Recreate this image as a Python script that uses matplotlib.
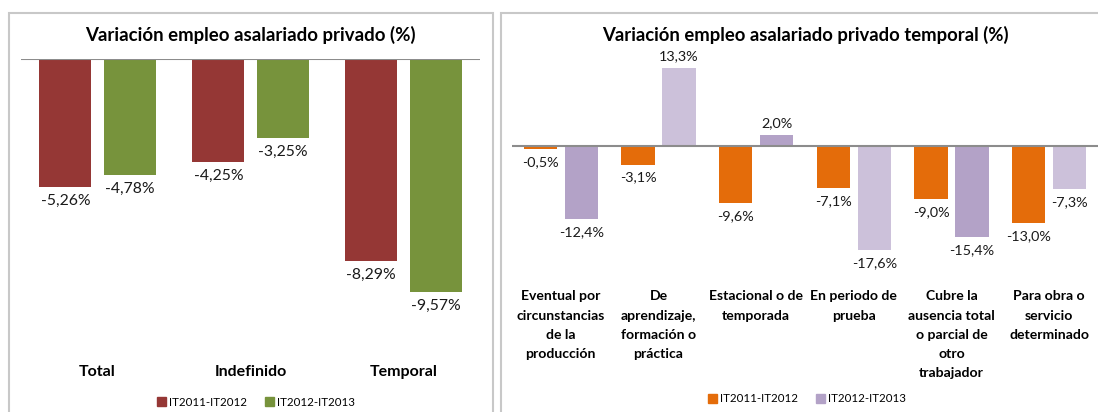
import matplotlib
matplotlib.use("Agg")
import numpy as np
import matplotlib.pyplot as plt
from matplotlib.patches import Rectangle, Patch

plt.rcParams["font.family"] = ["Lato", "DejaVu Sans"]

# data
left_categories = ["Total", "Indefinido", "Temporal"]
left_2011_2012 = [-5.26, -4.25, -8.29]
left_2012_2013 = [-4.78, -3.25, -9.57]

right_categories = [
    "Eventual por\ncircunstancias\nde la\nproducción",
    "De\naprendizaje,\nformación o\npráctica",
    "Estacional o de\ntemporada",
    "En periodo de\nprueba",
    "Cubre la\nausencia total\no parcial de\notro\ntrabajador",
    "Para obra o\nservicio\ndeterminado",
]
right_2011_2012 = [-0.5, -3.1, -9.6, -7.1, -9.0, -13.0]
right_2012_2013 = [-12.4, 13.3, 2.0, -17.6, -15.4, -7.3]

series_labels = ["IT2011-IT2012", "IT2012-IT2013"]

W, H = 1098, 412
fig = plt.figure(figsize=(W / 100, H / 100), dpi=100)


def axes_px(x0, x1, y0, y1):
    return fig.add_axes([x0 / W, 1 - y1 / H, (x1 - x0) / W, (y1 - y0) / H])


def fmt(v, nd):
    return f"{v:.{nd}f}".replace(".", ",") + "%"


def label_bars(ax, bars, values, nd, size):
    for b, v in zip(bars, values):
        x = b.get_x() + b.get_width() / 2
        if v < 0:
            ax.annotate(fmt(v, nd), (x, v), xytext=(0, -5), textcoords="offset points",
                        ha="center", va="top", fontsize=size, color="#1a1a1a")
        else:
            ax.annotate(fmt(v, nd), (x, v), xytext=(0, 4), textcoords="offset points",
                        ha="center", va="bottom", fontsize=size, color="#1a1a1a")


def style(ax):
    for s in ax.spines.values():
        s.set_visible(False)
    ax.axhline(0, color="#8c8c8c", lw=1.5, zorder=3)
    ax.set_yticks([])
    ax.tick_params(axis="x", length=0)


# panel borders
fig.patches.append(Rectangle((9 / W, -0.1), (493 - 9) / W, 1 - 13 / H + 0.1,
                             transform=fig.transFigure, fill=False, ec="#c8c8c8", lw=1.5))
fig.patches.append(Rectangle((501 / W, -0.1), 0.6, 1 - 13 / H + 0.1,
                             transform=fig.transFigure, fill=False, ec="#c8c8c8", lw=1.5))

w = 0.34
off = 0.21

# left chart
red, green = "#953735", "#77933c"
ax1 = axes_px(21, 480, 59, 351)
x = np.arange(len(left_categories))
b1 = ax1.bar(x - off, left_2011_2012, w, color=red)
b2 = ax1.bar(x + off, left_2012_2013, w, color=green)
ax1.set_xlim(-0.5, len(left_categories) - 0.5)
ax1.set_ylim(-12, 0)
style(ax1)
ax1.set_xticks(x, left_categories, fontsize=11.5, fontweight="bold")
ax1.tick_params(axis="x", pad=10)
label_bars(ax1, b1, left_2011_2012, 2, 11.3)
label_bars(ax1, b2, left_2012_2013, 2, 11.3)
fig.text(250 / W, 1 - 35 / H, "Variación empleo asalariado privado (%)",
         ha="center", va="center", fontsize=13.4, fontweight="bold")
fig.legend(handles=[Patch(color=red, label=series_labels[0]),
                    Patch(color=green, label=series_labels[1])],
           loc="center", bbox_to_anchor=(256 / W, 1 - 402 / H), ncol=2, frameon=False,
           fontsize=8.3, handlelength=0.8, handleheight=0.8, handletextpad=0.3,
           columnspacing=1.5)

# right chart
orange = "#e46c0a"
purples = ["#b3a2c7", "#ccc1da", "#b3a2c7", "#ccc1da", "#b3a2c7", "#ccc1da"]
ax2 = axes_px(512, 1098, 58, 264)
x = np.arange(len(right_categories))
b3 = ax2.bar(x - off, right_2011_2012, w, color=orange)
b4 = ax2.bar(x + off, right_2012_2013, w, color=purples)
ax2.set_xlim(-0.5, len(right_categories) - 0.5)
ax2.set_ylim(-20, 15)
style(ax2)
ax2.set_xticks(x, right_categories, fontsize=10.1, fontweight="bold", linespacing=1.72)
ax2.tick_params(axis="x", pad=19)
label_bars(ax2, b3, right_2011_2012, 1, 10.4)
label_bars(ax2, b4, right_2012_2013, 1, 10.4)
fig.text(805 / W, 1 - 35 / H, "Variación empleo asalariado privado temporal (%)",
         ha="center", va="center", fontsize=13.3, fontweight="bold")
fig.legend(handles=[Patch(color=orange, label=series_labels[0]),
                    Patch(color=purples[0], label=series_labels[1])],
           loc="center", bbox_to_anchor=(807 / W, 1 - 399 / H), ncol=2, frameon=False,
           fontsize=8.3, handlelength=0.8, handleheight=0.8, handletextpad=0.3,
           columnspacing=1.5)

fig.savefig("out.png", dpi=100)
